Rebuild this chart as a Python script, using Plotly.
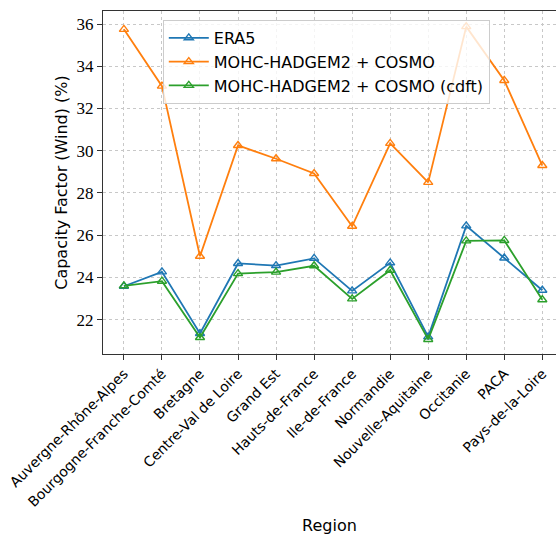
import plotly.graph_objects as go

regions = ["Auvergne-Rhône-Alpes", "Bourgogne-Franche-Comté", "Bretagne",
           "Centre-Val de Loire", "Grand Est", "Hauts-de-France", "Ile-de-France",
           "Normandie", "Nouvelle-Aquitaine", "Occitanie", "PACA", "Pays-de-la-Loire"]

era5 = [23.58, 24.26, 21.34, 24.66, 24.56, 24.90, 23.36, 24.69, 21.18, 26.44, 24.92, 23.39]
mohc = [35.75, 33.06, 25.00, 30.25, 29.62, 28.92, 26.42, 30.35, 28.50, 35.88, 33.33, 29.30]
mohc_cdft = [23.60, 23.82, 21.15, 24.18, 24.25, 24.55, 22.98, 24.34, 21.06, 25.73, 25.75, 22.94]

y_ticks = [22, 24, 26, 28, 30, 32, 34, 36]

series = [
    ("ERA5", era5, "#1f77b4"),
    ("MOHC-HADGEM2 + COSMO", mohc, "#ff7f0e"),
    ("MOHC-HADGEM2 + COSMO (cdft)", mohc_cdft, "#2ca02c"),
]

x_idx = list(range(len(regions)))

fig = go.Figure()
for name, vals, color in series:
    fig.add_trace(go.Scatter(
        x=x_idx, y=vals, name=name, mode="lines+markers",
        line=dict(color=color, width=1.8),
        marker=dict(symbol="triangle-up-open", size=8, color=color,
                    line=dict(width=1.4, color=color)),
    ))

fig.update_layout(
    width=556, height=537,
    margin=dict(l=103, r=0, t=11, b=183),
    paper_bgcolor="white", plot_bgcolor="white",
    font=dict(family="DejaVu Sans", size=15, color="black"),
    showlegend=True,
    legend=dict(
        x=0.132, y=0.974, xanchor="left", yanchor="top",
        bgcolor="rgba(255,255,255,0.8)", bordercolor="#cccccc", borderwidth=1,
        font=dict(family="DejaVu Sans", size=16),
        itemwidth=40, tracegroupgap=0,
    ),
    xaxis=dict(
        tickmode="array", tickvals=x_idx, ticktext=regions,
        range=[-0.55, 11.36], tickangle=-45,
        showline=True, linecolor="#333333", linewidth=1.2, mirror=True,
        ticks="outside", ticklen=5, tickcolor="#333333",
        showgrid=True, gridcolor="#c8c8c8", griddash="dot", gridwidth=0.8,
        zeroline=False,
        tickfont=dict(family="DejaVu Sans", size=14),
        title=dict(text="Region", font=dict(family="DejaVu Sans", size=16), standoff=10),
    ),
    yaxis=dict(
        tickmode="array", tickvals=y_ticks,
        range=[20.37, 36.62],
        showline=True, linecolor="#333333", linewidth=1.2, mirror=False,
        ticks="outside", ticklen=5, tickcolor="#333333",
        showgrid=True, gridcolor="#c8c8c8", griddash="dot", gridwidth=0.8,
        zeroline=False,
        tickfont=dict(family="Liberation Serif", size=17),
        title=dict(text="Capacity Factor (Wind) (%)", font=dict(family="DejaVu Sans", size=16), standoff=4),
    ),
)

fig.write_html("out.html")
